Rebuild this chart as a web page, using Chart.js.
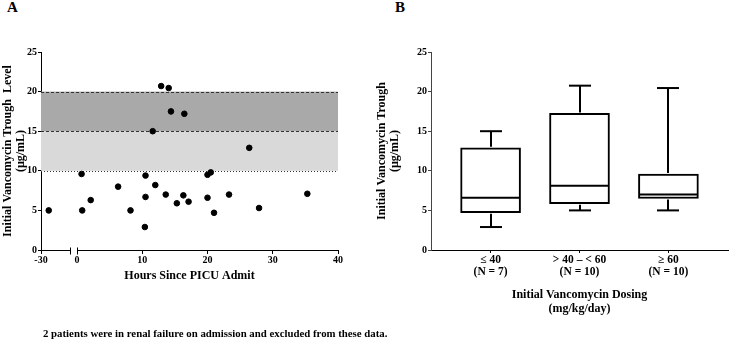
<!DOCTYPE html>
<html>
<head>
<meta charset="utf-8">
<script src="https://cdn.jsdelivr.net/npm/chart.js@4.4.1/dist/chart.umd.min.js"></script>
<style>
body { margin:0; background:#fff; width:729px; height:350px; position:relative; overflow:hidden;
       font-family:"Liberation Serif", serif; font-weight:bold; color:#000; }
.panel { position:absolute; font-size:15px; line-height:15px; }
#chartA { position:absolute; left:0; top:0; }
#chartB { position:absolute; left:360px; top:0; }
#note { position:absolute; left:43px; top:327px; font-size:10.8px; white-space:nowrap; }
</style>
</head>
<body>
<div class="panel" style="left:7px;top:0">A</div>
<div class="panel" style="left:395px;top:0">B</div>
<canvas id="chartA" width="360" height="350"></canvas>
<canvas id="chartB" width="369" height="350"></canvas>
<div id="note">2 patients were in renal failure on admission and excluded from these data.</div>
<script>
// panel A - trough level vs hours since admit
const hoursBefore = [-28.8];
const troughBefore = [5.0];
const hours   = [0.7, 0.8, 2.1, 6.3, 8.2, 10.5, 10.5, 10.4, 11.6, 12.0, 12.9, 13.6, 14.05,
                 14.4, 15.3, 16.3, 16.45, 17.1, 20.0, 20.5, 20.0, 21.0, 23.3, 26.4, 27.9, 35.3];
const troughs = [9.6, 5.0, 6.3, 8.0, 5.0, 9.4, 6.7, 2.9, 15.0, 8.2, 20.7, 7.0, 20.45,
                 17.5, 5.9, 6.9, 17.2, 6.1, 9.5, 9.8, 6.6, 4.7, 7.0, 12.9, 5.3, 7.1];
const bandFrom = [10, 15];
const bandTo = [15, 20];
const breakAt = -25.5;

// panel B - box plots by dosing group
const dosingGroups = [['\u2264 40', '(N = 7)'], ['> 40 \u2013 < 60', '(N = 10)'], ['\u2265 60', '(N = 10)']];
const mins    = [2.9, 5.0, 5.0];
const q1s     = [4.7, 5.85, 6.5];
const medians = [6.6, 8.1, 7.0];
const q3s     = [12.9, 17.25, 9.6];
const maxs    = [15.0, 20.75, 20.45];

const yTicks = [0, 5, 10, 15, 20, 25];

const serif = 'Liberation Serif';
const tickFont = { family: serif, size: 10, weight: 'bold' };
const titleFont = { family: serif, size: 12, weight: 'bold', lineHeight: 1.1 };

function line(ctx, x1, y1, x2, y2) {
    ctx.beginPath();
    ctx.moveTo(x1, y1);
    ctx.lineTo(x2, y2);
    ctx.stroke();
}

const bandsPlugin = {
    id: 'bands',
    beforeDatasetsDraw(chart) {
        const ctx = chart.ctx, a = chart.chartArea, y = chart.scales.y;
        const fills = ['#d9d9d9', '#a9a9a9'];
        ctx.save();
        for (let i = 0; i < bandFrom.length; i++) {
            ctx.fillStyle = fills[i];
            const top = y.getPixelForValue(bandTo[i]);
            ctx.fillRect(a.left, top, a.right - a.left, y.getPixelForValue(bandFrom[i]) - top);
        }
        ctx.strokeStyle = '#333';
        ctx.lineWidth = 1;
        [bandTo[0], bandTo[1]].forEach(v => {
            ctx.setLineDash([3, 2]);
            const py = Math.round(y.getPixelForValue(v)) + 0.5;
            line(ctx, a.left, py, a.right, py);
        });
        ctx.setLineDash([1, 2]);
        const p10 = Math.round(y.getPixelForValue(bandFrom[0])) + 0.5;
        line(ctx, a.left, p10, a.right, p10);
        ctx.setLineDash([]);
        // end of the first axis segment (break mark)
        const xb = chart.scales.xBefore;
        const px = Math.round(xb.getPixelForValue(breakAt)) + 0.5;
        const base = Math.round(a.bottom) + 0.5;
        ctx.strokeStyle = '#000';
        line(ctx, px, base - 3, px, base + 4);
        const px0 = Math.round(chart.scales.x.getPixelForValue(0)) + 0.5;
        line(ctx, px0, base - 3, px0, base + 4);
        ctx.restore();
    }
};

new Chart(document.getElementById('chartA'), {
    type: 'scatter',
    data: {
        datasets: [{
            data: hoursBefore.map((h, i) => ({ x: h, y: troughBefore[i] })),
            xAxisID: 'xBefore',
            backgroundColor: '#000', borderColor: '#000', pointRadius: 2.8
        }, {
            data: hours.map((h, i) => ({ x: h, y: troughs[i] })),
            xAxisID: 'x',
            backgroundColor: '#000', borderColor: '#000', pointRadius: 2.8
        }]
    },
    options: {
        responsive: false,
        animation: false,
        layout: { padding: { top: 52, left: 0, right: 22, bottom: 67.8 } },
        plugins: {
            legend: { display: false },
            tooltip: { enabled: false },
            title: {
                display: true, text: 'Hours Since PICU Admit', position: 'bottom', fullSize: false,
                color: '#000', font: titleFont, padding: { top: 1, bottom: 0 }
            }
        },
        scales: {
            xBefore: {
                type: 'linear', position: 'bottom', stack: 'hours', stackWeight: 29,
                min: -30, max: breakAt,
                afterBuildTicks: s => { s.ticks = [{ value: -30 }]; },
                ticks: { color: '#000', font: tickFont, padding: 0, maxRotation: 0 },
                grid: { drawOnChartArea: false, tickLength: 4, color: '#000' },
                border: { color: '#000' },
                afterFit: s => { s.height = 18; }
            },
            gap: {
                type: 'linear', position: 'bottom', stack: 'hours', stackWeight: 7,
                ticks: { display: false }, grid: { display: false }, border: { display: false },
                afterFit: s => { s.height = 18; }
            },
            x: {
                type: 'linear', position: 'bottom', stack: 'hours', stackWeight: 261,
                min: 0, max: 40,
                ticks: { stepSize: 10, color: '#000', font: tickFont, padding: 0, maxRotation: 0 },
                grid: { drawOnChartArea: false, tickLength: 4, color: '#000' },
                border: { color: '#000' },
                afterFit: s => { s.height = 18; }
            },
            y: {
                min: 0, max: 25,
                afterBuildTicks: s => { s.ticks = yTicks.map(v => ({ value: v })); },
                ticks: { color: '#000', font: tickFont, padding: 1 },
                grid: { drawOnChartArea: false, tickLength: 3, color: '#000' },
                border: { color: '#000' },
                title: {
                    display: true, text: ['Initial Vancomycin Trough  Level', '(\u00b5g/mL)'],
                    color: '#000', font: titleFont, padding: { top: 1, bottom: 0 }
                },
                afterFit: s => { s.width = 41; }
            }
        }
    },
    plugins: [bandsPlugin]
});

const whiskerPlugin = {
    id: 'whiskers',
    afterDatasetsDraw(chart) {
        const ctx = chart.ctx, y = chart.scales.y;
        const meta = chart.getDatasetMeta(0);
        ctx.save();
        ctx.strokeStyle = '#000';
        ctx.lineWidth = 2;
        meta.data.forEach((bar, i) => {
            const half = bar.width / 2, cap = 11;
            const x = Math.round(bar.x);
            const pMed = y.getPixelForValue(medians[i]);
            line(ctx, bar.x - half + 1, pMed, bar.x + half - 1, pMed);
            const pMax = y.getPixelForValue(maxs[i]);
            const pMin = y.getPixelForValue(mins[i]);
            line(ctx, x, y.getPixelForValue(q3s[i]) - 1, x, pMax);
            line(ctx, x - cap, pMax, x + cap, pMax);
            line(ctx, x, y.getPixelForValue(q1s[i]) + 1, x, pMin);
            line(ctx, x - cap, pMin, x + cap, pMin);
        });
        ctx.restore();
    }
};

new Chart(document.getElementById('chartB'), {
    type: 'bar',
    data: {
        datasets: [{
            data: q1s.map((q, i) => ({ x: i + 1, y: [q, q3s[i]] })),
            backgroundColor: '#fff',
            borderColor: '#000',
            borderWidth: 2,
            borderSkipped: false,
            barThickness: 60
        }]
    },
    options: {
        responsive: false,
        animation: false,
        layout: { padding: { top: 52, left: 0, right: 1, bottom: 34 } },
        plugins: { legend: { display: false }, tooltip: { enabled: false } },
        scales: {
            x: {
                type: 'linear', min: 0.33, max: 3.67, offset: false,
                afterBuildTicks: s => { s.ticks = dosingGroups.map((g, i) => ({ value: i + 1 })); },
                ticks: {
                    callback: v => dosingGroups[v - 1],
                    color: '#000', font: { family: serif, size: 11.5, weight: 'bold', lineHeight: 0.96 },
                    padding: 2, maxRotation: 0, autoSkip: false
                },
                grid: { drawOnChartArea: false, tickLength: 3, color: '#000', offset: false },
                border: { color: '#000' },
                title: {
                    display: true, text: ['Initial Vancomycin Dosing', '(mg/kg/day)'],
                    color: '#000', font: { family: serif, size: 12, weight: 'bold', lineHeight: 1.17 },
                    padding: 0
                },
                afterFit: s => { s.height = 66; }
            },
            y: {
                min: 0, max: 25,
                afterBuildTicks: s => { s.ticks = yTicks.map(v => ({ value: v })); },
                ticks: { color: '#000', font: tickFont, padding: 1 },
                grid: { drawOnChartArea: false, tickLength: 3, color: '#444' },
                border: { color: '#444' },
                title: {
                    display: true, text: ['Initial Vancomycin Trough', '(\u00b5g/mL)'],
                    color: '#000', font: { family: serif, size: 12, weight: 'bold', lineHeight: 1.1 },
                    padding: { top: 15, bottom: 0 }
                },
                afterFit: s => { s.width = 71; }
            }
        }
    },
    plugins: [whiskerPlugin]
});
</script>
</body>
</html>
